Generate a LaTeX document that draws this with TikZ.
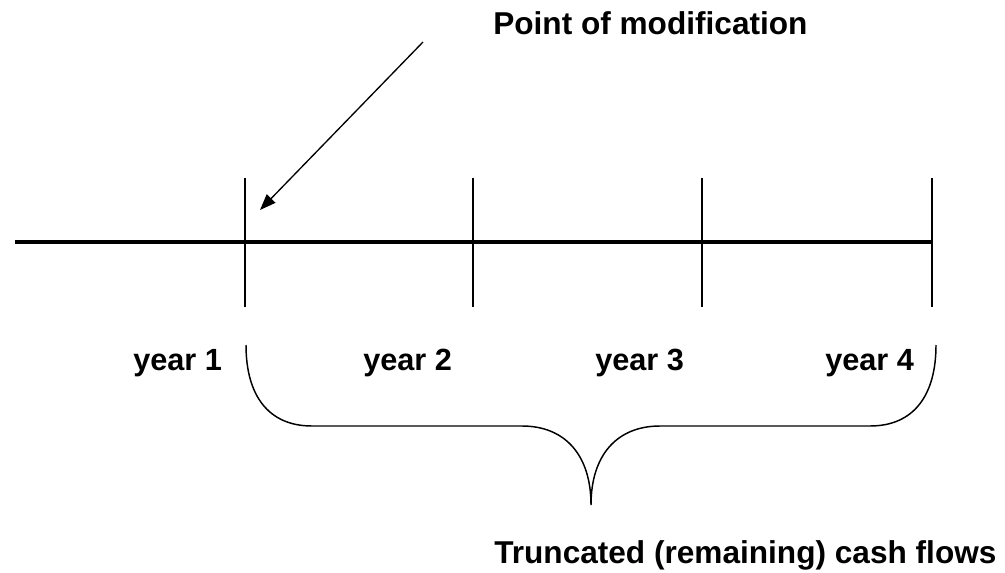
\documentclass[tikz,border=0pt]{standalone}
\usepackage{fontspec}
\setmainfont{Liberation Sans}
\usetikzlibrary{arrows.meta}
\begin{document}
\begin{tikzpicture}[x=0.75pt,y=-0.75pt,
  timeline/.style={line width=2.4pt},
  tickline/.style={line width=2pt},
  bracepath/.style={line width=1.1pt},
  pointer/.style={line width=1pt,-{Triangle[length=12pt,width=9pt]}},
  biglabel/.style={inner sep=0pt,font=\bfseries\fontsize{23.7}{28}\selectfont},
  yearlabel/.style={inner sep=0pt,font=\bfseries\fontsize{23}{27}\selectfont}]
\useasboundingbox (0,0) rectangle (1005,573);
% timeline
\coordinate (L) at (15,242);
\coordinate (R) at (932,242);
\draw[timeline] (L) -- (R);
\foreach \n/\x in {t1/245,t2/473,t3/702,t4/932}{
  \coordinate (\n top) at (\x,178);
  \coordinate (\n bot) at (\x,307);
  \draw[tickline] (\n top) -- (\n bot);
}
% labels
\node[biglabel,anchor=base west] (pom) at (493,35) {Point of modification};
\node[biglabel,anchor=base west] (trunc) at (494,563) {Truncated (remaining) cash flows};
\node[yearlabel,anchor=base west] (y1) at (133,370) {year 1};
\node[yearlabel,anchor=base west] (y2) at (363,370) {year 2};
\node[yearlabel,anchor=base west] (y3) at (595,370) {year 3};
\node[yearlabel,anchor=base west] (y4) at (825,370) {year 4};
% arrow
\coordinate (astart) at (423,42);
\coordinate (atip) at (260,210);
\draw[pointer] (astart) -- (atip);
% brace
\coordinate (bl) at (246,345);
\coordinate (br) at (936,345);
\coordinate (btip) at (591,505);
\draw[bracepath] (bl) .. controls (246,395) and (268,426) .. (312,426)
  -- (522,426) .. controls (565,426) and (591,455) .. (btip)
  .. controls (591,455) and (617,426) .. (660,426)
  -- (870,426) .. controls (914,426) and (936,395) .. (br);
\end{tikzpicture}
\end{document}
